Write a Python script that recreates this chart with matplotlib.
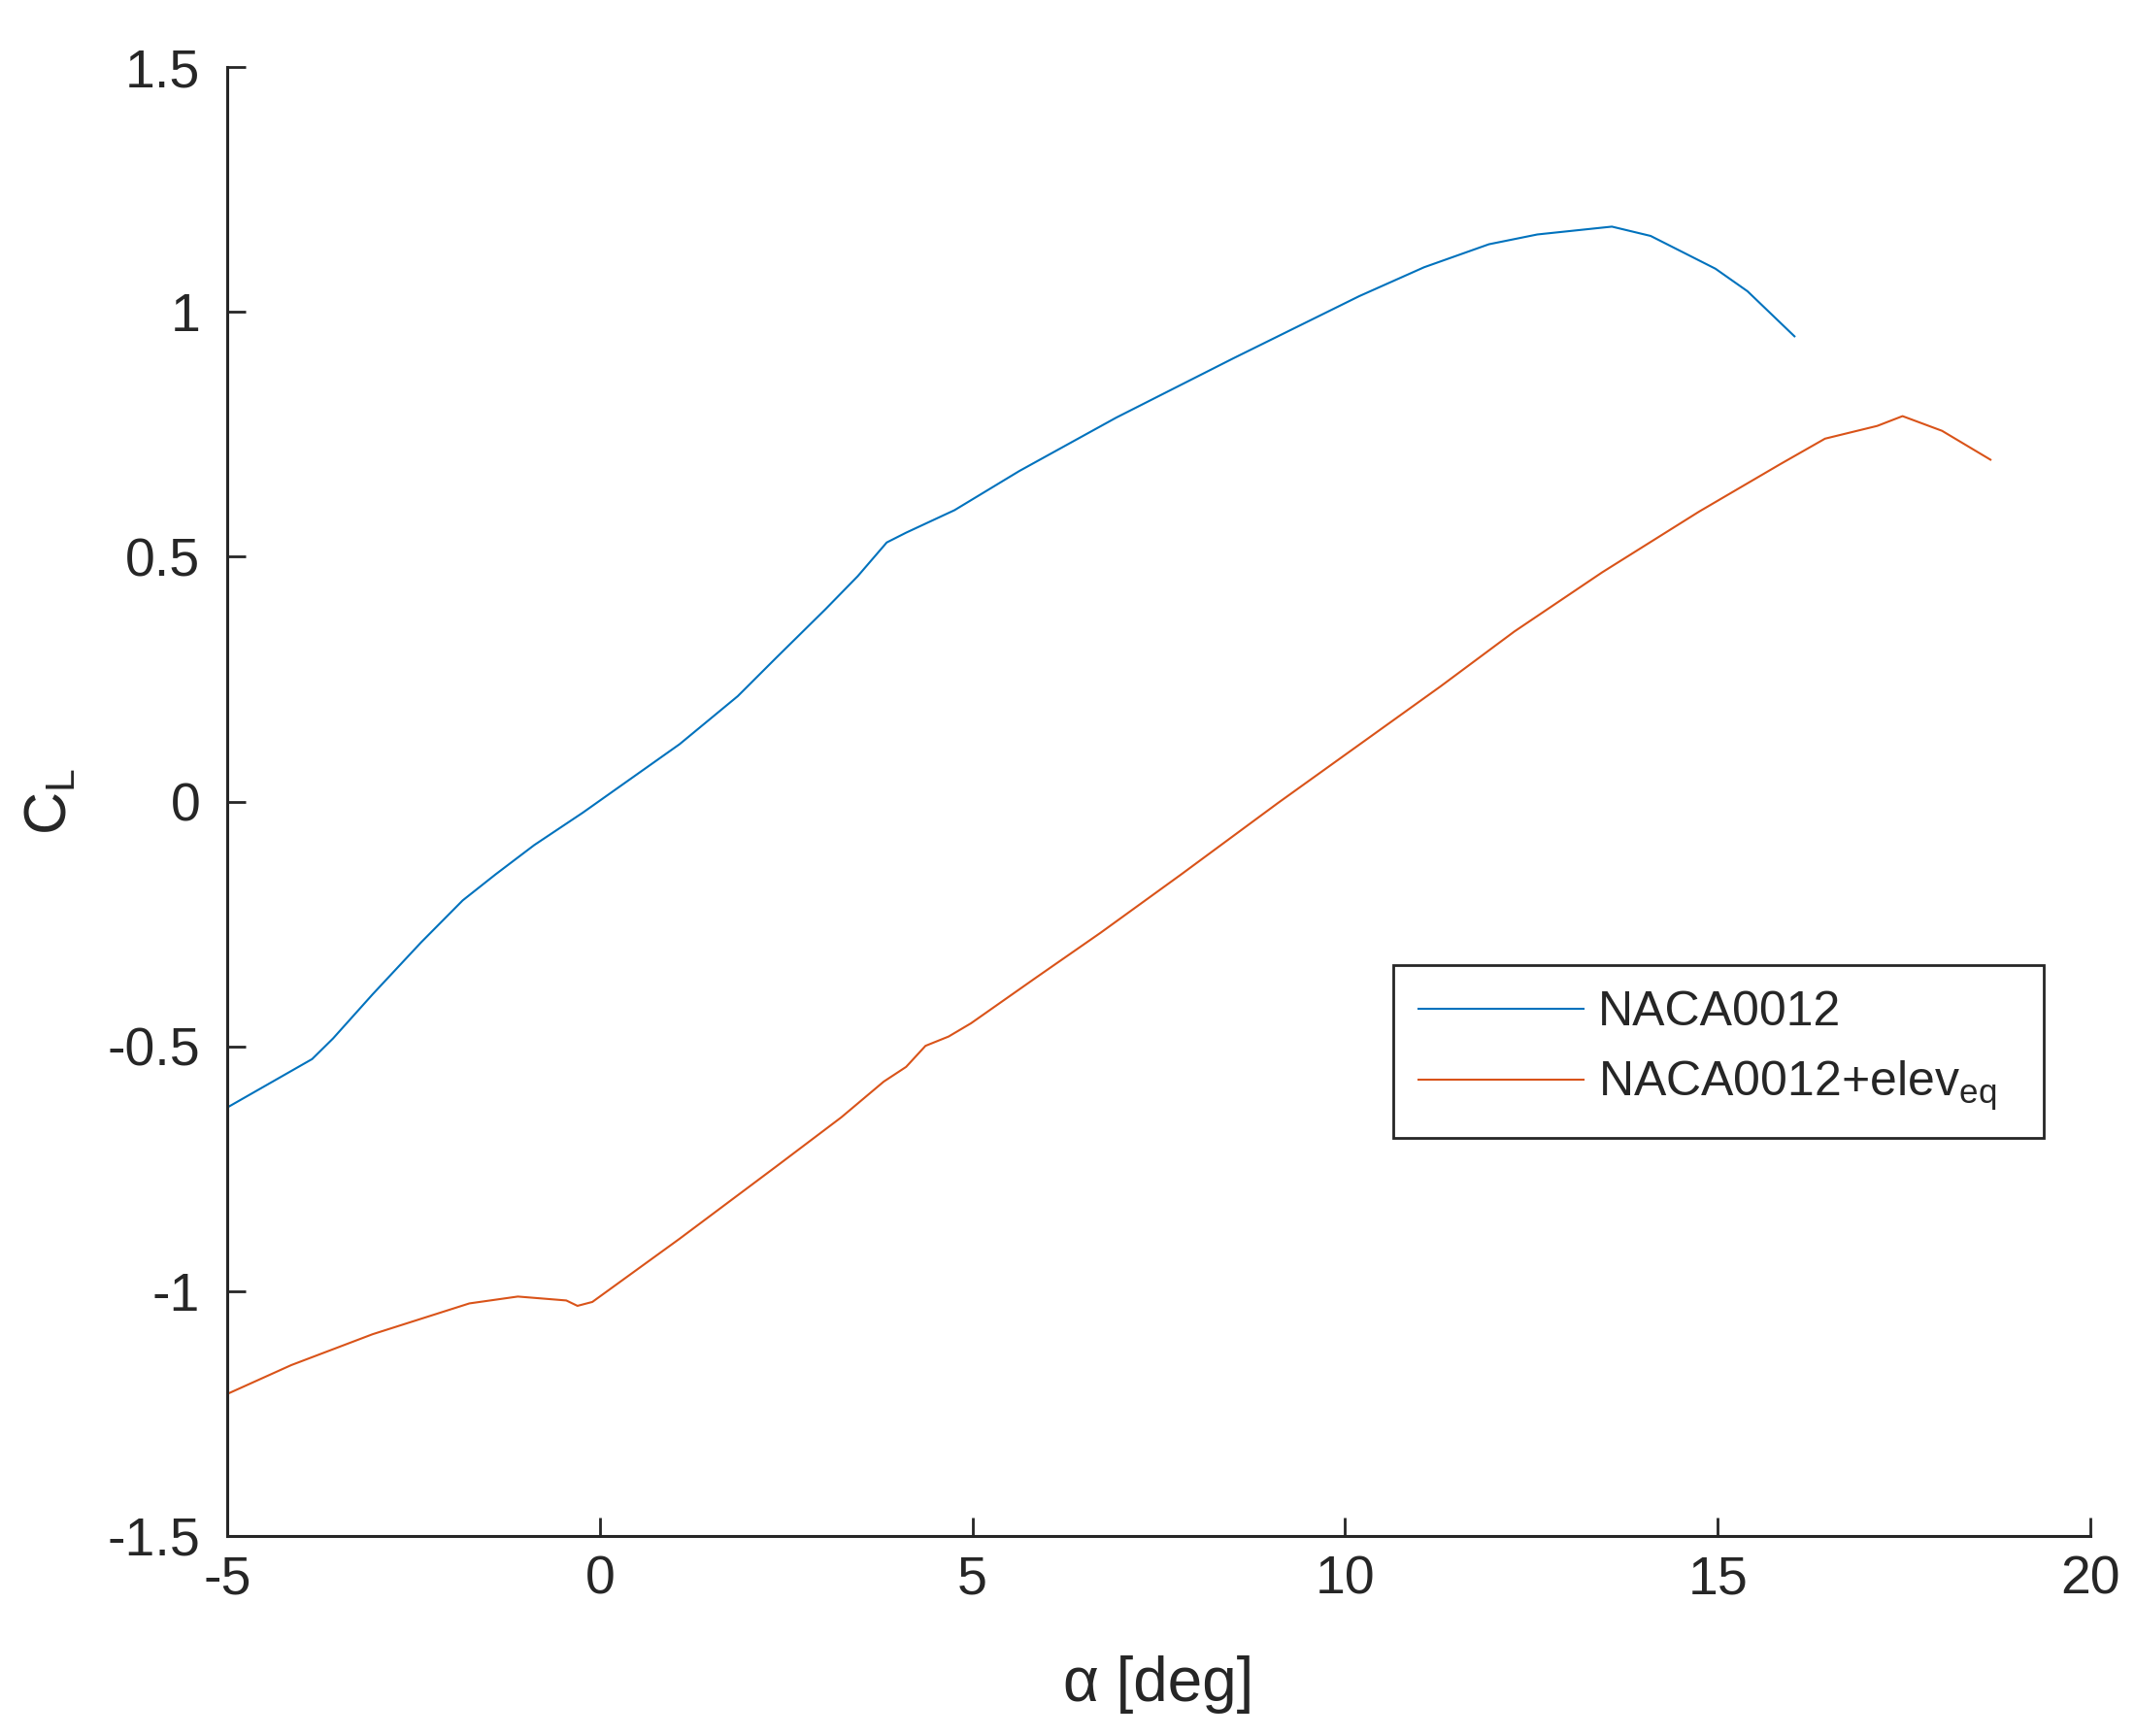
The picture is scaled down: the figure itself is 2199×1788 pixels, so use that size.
import matplotlib
matplotlib.use("Agg")
import matplotlib.pyplot as plt

# ---- data ----
alpha_naca = [-5.0, -3.86, -3.58, -3.05, -2.40, -1.84, -1.40, -0.88, -0.23, 0.42,
              1.07, 1.85, 2.37, 3.03, 3.46, 3.85, 4.11, 4.76, 5.63, 6.93,
              8.50, 10.19, 11.06, 11.93, 12.58, 13.58, 14.10, 14.97, 15.40, 16.03]
cl_naca = [-0.625, -0.526, -0.484, -0.394, -0.288, -0.202, -0.149, -0.089, -0.023, 0.047,
           0.117, 0.215, 0.294, 0.393, 0.460, 0.529, 0.549, 0.595, 0.675, 0.784,
           0.905, 1.032, 1.091, 1.138, 1.158, 1.174, 1.155, 1.088, 1.042, 0.950]

alpha_elev = [-5.0, -4.14, -3.05, -1.75, -1.10, -0.45, -0.30, -0.10, 1.07, 2.37,
              3.24, 3.81, 4.11, 4.37, 4.68, 4.98, 5.85, 6.72, 7.80, 9.10,
              11.28, 12.27, 13.45, 14.75, 15.84, 16.44, 17.14, 17.48, 18.01, 18.66]
cl_elev = [-1.210, -1.151, -1.088, -1.025, -1.011, -1.019, -1.030, -1.022, -0.893, -0.745,
           -0.645, -0.572, -0.542, -0.499, -0.480, -0.453, -0.360, -0.268, -0.149, -0.003,
           0.235, 0.347, 0.468, 0.592, 0.689, 0.741, 0.767, 0.787, 0.757, 0.698]

series_labels = ["NACA0012", r"NACA0012+elev$_{\mathrm{eq}}$"]
x_ticks = [-5, 0, 5, 10, 15, 20]
y_ticks = [-1.5, -1, -0.5, 0, 0.5, 1, 1.5]
y_ticklabels = ["-1.5", "-1", "-0.5", "0", "0.5", "1", "1.5"]
x_ticklabels = ["-5", "0", "5", "10", "15", "20"]

plt.rcParams['font.family'] = ['Liberation Sans', 'DejaVu Sans']
plt.rcParams['mathtext.fontset'] = 'custom'
plt.rcParams['mathtext.rm'] = 'Liberation Sans'
plt.rcParams['mathtext.it'] = 'Liberation Sans'
plt.rcParams['mathtext.bf'] = 'Liberation Sans:bold'

W, H = 2199, 1788
fig = plt.figure(figsize=(W / 100, H / 100), dpi=100)
ax = fig.add_axes([234 / W, 1 - 1582 / H, (2153 - 234) / W, (1582 - 69) / H])

dark = '#262626'
ax.plot(alpha_naca, cl_naca, color='#0072BD', lw=1.5, label=series_labels[0])
ax.plot(alpha_elev, cl_elev, color='#D95319', lw=1.5, label=series_labels[1])

ax.set_xlim(-5, 20)
ax.set_ylim(-1.5, 1.5)
ax.set_xticks(x_ticks)
ax.set_xticklabels(x_ticklabels)
ax.set_yticks(y_ticks)
ax.set_yticklabels(y_ticklabels)

for s in ['top', 'right']:
    ax.spines[s].set_visible(False)
for s in ['left', 'bottom']:
    ax.spines[s].set_linewidth(2.2)
    ax.spines[s].set_color(dark)

ax.tick_params(axis='both', direction='in', length=14, width=2.0, colors=dark,
               labelsize=40, labelcolor=dark)
ax.tick_params(axis='y', pad=20)
ax.tick_params(axis='x', pad=14)

ax.set_xlabel('α [deg]', fontsize=46, color=dark)
ax.set_ylabel(r'C$_{\mathrm{L}}$', fontsize=44, color=dark)
ax.xaxis.label.set_va('center')
ax.yaxis.label.set_va('center')
ax.xaxis.set_label_coords(0.5, (1582 - 1735) / (1582 - 69))
ax.yaxis.set_label_coords((53 - 234) / (2153 - 234), 0.5)

leg_x0, leg_top, leg_x1 = 1435 / W, 1 - 994 / H, 2105 / W
leg = ax.legend(loc='upper left',
                bbox_to_anchor=(leg_x0, leg_top - 0.2, leg_x1 - leg_x0, 0.2),
                bbox_transform=fig.transFigure, borderaxespad=0, mode='expand',
                fontsize=36, frameon=True, fancybox=False, framealpha=1,
                handlelength=3.4, handletextpad=0.3, labelspacing=0.5,
                borderpad=0.52)
leg.get_frame().set_edgecolor(dark)
leg.get_frame().set_linewidth(2.0)
for t in leg.get_texts():
    t.set_color(dark)

fig.savefig('out.png', dpi=100, facecolor='white')
